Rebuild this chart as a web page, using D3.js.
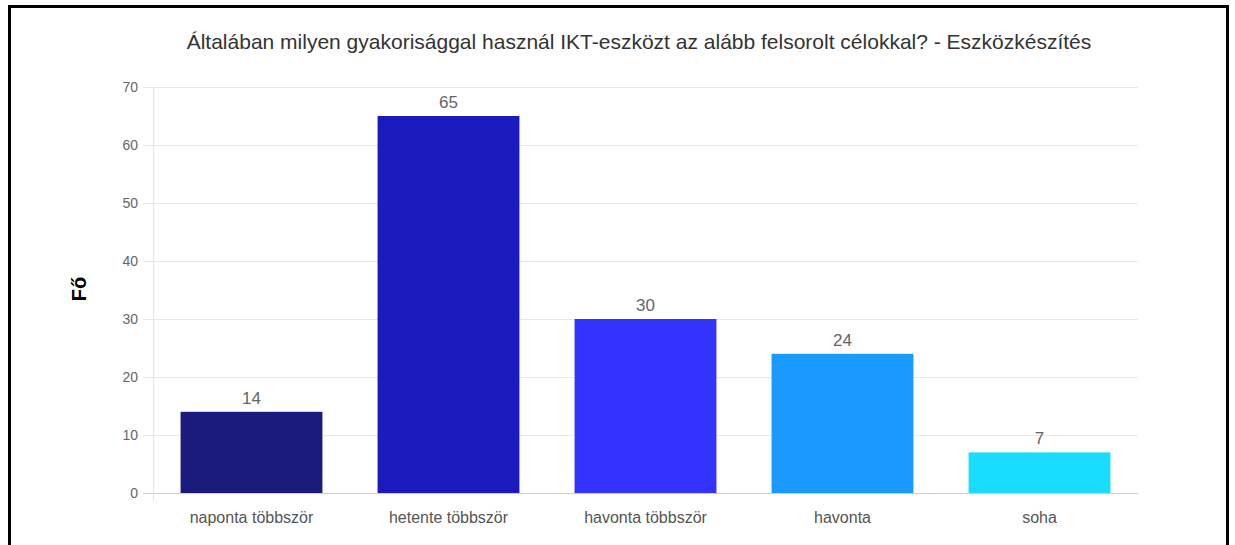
<!DOCTYPE html>
<html>
<head>
<meta charset="utf-8">
<script src="https://cdn.jsdelivr.net/npm/d3@7"></script>
<style>
    body { margin: 0; background: #fff; }
    svg { font-family: "Liberation Sans", Arial, sans-serif; }
</style>
</head>
<body>
<svg id="chart" width="1235" height="545"></svg>
<script>
const categories = ["naponta többször", "hetente többször", "havonta többször", "havonta", "soha"]
const values = [14, 65, 30, 24, 7]
const barColors = ["#1b1b7d", "#1a1abf", "#3333ff", "#1a99ff", "#1adcff"]
const yTicks = [0, 10, 20, 30, 40, 50, 60, 70]
const title = "Általában milyen gyakorisággal használ IKT-eszközt az alább felsorolt célokkal? - Eszközkészítés"
const yLabel = "Fő"

let svg = d3.select("#chart")

// frame
svg.append("rect")
    .attr("x", 9.5).attr("y", 6.5)
    .attr("width", 1218).attr("height", 560)
    .attr("fill", "none").attr("stroke", "#000").attr("stroke-width", 3)

let margin = { left: 153, right: 1138, top: 87, bottom: 493 }

let x = d3.scaleBand()
    .domain(categories)
    .range([margin.left, margin.right])
    .paddingInner(0.28)
    .paddingOuter(0.14)

let y = d3.scaleLinear().domain([0, 70]).range([margin.bottom, margin.top])

// grid
svg.append("g")
    .selectAll("line")
    .data(yTicks)
    .enter()
    .append("line")
    .attr("x1", margin.left - 10)
    .attr("x2", margin.right)
    .attr("y1", (d) => y(d) + 0.5)
    .attr("y2", (d) => y(d) + 0.5)
    .attr("stroke", (d) => d == 0 ? "#cfcfcf" : "#e8e8e8")
    .attr("stroke-width", 1)

svg.append("line")
    .attr("x1", margin.left + 0.5).attr("x2", margin.left + 0.5)
    .attr("y1", margin.top).attr("y2", margin.bottom + 8)
    .attr("stroke", "#e3e3e3")

// y ticks
svg.append("g")
    .selectAll("text")
    .data(yTicks)
    .enter()
    .append("text")
    .attr("x", margin.left - 15)
    .attr("y", (d) => y(d))
    .attr("dy", "0.35em")
    .attr("text-anchor", "end")
    .attr("font-size", 14)
    .attr("fill", "#666")
    .text((d) => d)

// bars
svg.append("g")
    .selectAll("rect")
    .data(values)
    .enter()
    .append("rect")
    .attr("x", (d, i) => x(categories[i]))
    .attr("y", (d) => y(d))
    .attr("width", x.bandwidth())
    .attr("height", (d) => y(0) - y(d))
    .attr("fill", (d, i) => barColors[i])

// value labels
svg.append("g")
    .selectAll("text")
    .data(values)
    .enter()
    .append("text")
    .attr("x", (d, i) => x(categories[i]) + x.bandwidth() / 2)
    .attr("y", (d) => y(d) - 8)
    .attr("text-anchor", "middle")
    .attr("font-size", 17)
    .attr("fill", "#666")
    .text((d) => d)

// x labels
svg.append("g")
    .selectAll("text")
    .data(categories)
    .enter()
    .append("text")
    .attr("x", (d) => x(d) + x.bandwidth() / 2)
    .attr("y", 523)
    .attr("text-anchor", "middle")
    .attr("font-size", 16)
    .attr("fill", "#555")
    .text((d) => d)

// title
svg.append("text")
    .attr("x", 639)
    .attr("y", 49)
    .attr("text-anchor", "middle")
    .attr("font-size", 21)
    .attr("fill", "#333")
    .text(title)

// y label
svg.append("text")
    .attr("transform", "translate(86,289) rotate(-90)")
    .attr("text-anchor", "middle")
    .attr("font-size", 20)
    .attr("font-weight", "bold")
    .attr("fill", "#000")
    .text(yLabel)
</script>
</body>
</html>
